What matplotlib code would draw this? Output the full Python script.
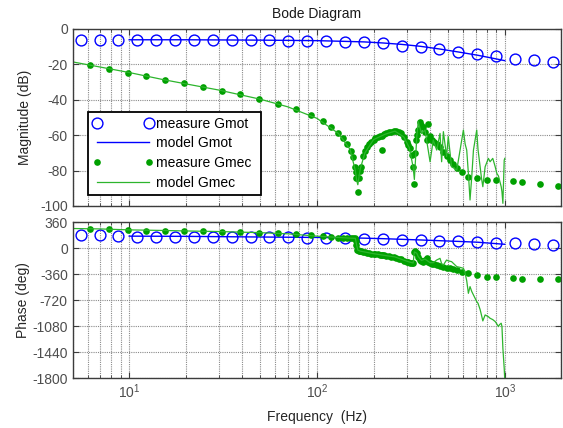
import matplotlib
matplotlib.use("Agg")
import matplotlib.pyplot as plt
from matplotlib.ticker import LogLocator, NullFormatter, FixedLocator

plt.rcParams['font.family'] = ['Liberation Sans', 'DejaVu Sans']
plt.rcParams['mathtext.fontset'] = 'custom'
plt.rcParams['mathtext.rm'] = 'Liberation Sans'
plt.rcParams['mathtext.it'] = 'Liberation Sans'
plt.rcParams['axes.unicode_minus'] = False

# ---------------- data ----------------
# measure Gmot (blue circles)
mot_f = [5.51, 6.95, 8.75, 11.0, 13.9, 17.5, 22.1, 27.9, 35.2, 44.3, 55.8, 70.5, 88.7,
         112, 141, 178, 224, 282, 356, 449, 566, 714, 899, 1135, 1429, 1803]
mot_mag = [-6.0, -6.0, -6.0, -6.0, -6.0, -6.0, -6.0, -6.0, -6.0, -6.0, -6.0, -6.6, -6.6,
           -6.6, -7.1, -7.1, -8.1, -9.4, -10.3, -11.5, -12.8, -14.1, -15.4, -16.9, -17.7, -18.8]
mot_phase = [180, 180, 166, 160, 160, 160, 160, 160, 160, 160, 160, 158, 146,
             146, 144, 132, 128, 120, 112, 103, 94, 85, 73, 66, 55, 50]

# model Gmot (blue line)
mmot_f = [10, 20, 50, 100, 141, 178, 224, 282, 356, 449, 566, 714, 899, 1000]
mmot_mag = [-6.1, -6.1, -6.3, -6.6, -7.0, -7.3, -7.9, -8.7, -9.8, -11.3, -13.0, -14.8, -16.9, -17.9]
mmot_phase = [168, 165, 156, 150, 145, 140, 133, 124, 115, 105, 95, 84, 64, 55]

# measure Gmec (green dots)
mec_f = [6.2, 7.8, 9.9, 12.3, 15.5, 19.5, 24.6, 31.1, 38.9, 49.0, 61.7, 76.9, 92.5,
         107, 119, 129, 138, 145, 151, 156, 159, 161, 162, 163, 165, 167, 169, 171,
         176, 180, 184, 190, 195, 200, 204, 210, 216, 221, 223, 228, 234, 242, 249,
         256, 265, 272, 280, 290, 300, 306, 312, 319, 324, 328, 331, 336, 339, 346,
         353, 360, 368, 376, 384, 391, 400, 410, 420, 434, 452, 471, 490, 511, 532,
         555, 590, 640, 710, 802, 903, 1102, 1230, 1531, 1931]
mec_mag = [-20.5, -22.7, -24.6, -26.7, -28.8, -30.8, -32.9, -34.8, -37.0, -39.5, -42.5, -45.1, -48.6,
           -52.2, -55.5, -58.9, -61.8, -65.0, -68.8, -72.5, -77.8, -81.0, -84.4, -84.0, -91.9, -84.0, -80.0, -77.8,
           -72.0, -69.0, -66.5, -65.0, -63.7, -62.5, -61.8, -61.0, -60.7, -60.5, -68.4, -59.5, -58.9, -58.4, -58.0,
           -57.7, -57.6, -58.0, -58.9, -61.0, -63.7, -65.5, -67.4, -71.0, -77.8, -87.8, -70.0, -62.6, -60.0, -57.0,
           -52.3, -54.0, -55.1, -58.0, -62.6, -53.6, -60.7, -62.5, -63.7, -65.0, -66.5, -69.5, -71.5, -74.0, -76.5,
           -78.5, -80.6, -83.4, -84.3, -85.3, -85.3, -85.7, -86.3, -87.3, -88.5]
mec_phase = [267, 267, 253, 244, 244, 239, 239, 230, 221, 216, 207, 193, 182,
             165, 155, 148, 142, 140, 138, 138, 138, 100, 40, -20, -30, -35, -38, -42,
             -50, -55, -61, -70, -75, -78, -80, -85, -90, -94, -96, -100, -105, -112, -117,
             -125, -135, -148, -156, -170, -186, -195, -202, -209, -200, -48, -45, -60, -71, -120,
             -163, -175, -186, -160, -140, -190, -209, -218, -225, -232, -244, -255, -268, -280, -287,
             -300, -325, -348, -371, -394, -405, -408, -426, -431, -426]

# model Gmec (green line)
mmec_f = [5, 7, 10, 15, 20, 30, 50, 70, 100, 130, 150, 160, 163, 165, 170, 180, 200, 230, 260,
          290, 310, 325, 330, 340, 346, 360, 376, 400, 416, 434, 452, 461, 471, 490, 500, 521,
          555, 578, 602, 615, 627, 640, 653, 667, 681, 709, 720, 739, 751, 764, 786, 818,
          835, 863, 889, 907, 925, 937, 957, 966, 977, 993, 1000]
mmec_mag = [-18.6, -21.5, -24.6, -28.5, -31.0, -34.5, -39.7, -44.0, -50.5, -59.0, -68.0, -80.0, -86.0, -88.0, -79.0, -70.0, -62.5, -59.5, -57.7,
            -61.0, -67.0, -78.0, -85.0, -60.8, -52.4, -59.0, -57.1, -75.0, -62.7, -68.4, -59.0, -75.0, -58.0, -72.1, -60.8, -77.8,
            -79.7, -68.4, -57.1, -65.0, -68.4, -81.6, -96.6, -83.4, -68.4, -57.1, -68.0, -77.8, -84.0, -89.1, -77.8, -73.1,
            -75.0, -73.1, -77.8, -81.6, -83.0, -85.3, -89.1, -92.0, -98.5, -74.1, -73.1]
mmec_phase = [274, 268, 255, 247, 240, 232, 216, 200, 168, 150, 140, 138, 30, -25, -40, -52, -75, -100, -120,
              -165, -190, -205, -50, -70, -115, -170, -150, -200, -200, -163, -140, -215, -232, -163, -175, -186,
              -255, -265, -278, -348, -450, -625, -532, -600, -648, -740, -763, -850, -925, -1008, -925, -950,
              -971, -990, -1017, -1050, -1087, -1060, -1040, -1087, -1388, -1665, -1830]

title = "Bode Diagram"
mag_ticks = [-100, -80, -60, -40, -20, 0]
phase_ticks = [-1800, -1440, -1080, -720, -360, 0, 360]

# ---------------- styling ----------------
BLUE = '#0000ff'
GREEN_DOT = '#00a000'
GREEN_LINE = '#2db52d'
TICK_C = '#4d4d4d'
FRAME_C = '#3c3c3c'

fig = plt.figure(figsize=(5.63, 4.28), dpi=100)
ax1 = fig.add_axes([0.1291, 0.5187, 0.8679, 0.4136])
ax2 = fig.add_axes([0.1291, 0.1168, 0.8679, 0.3638])


def style(ax):
    ax.set_xscale('log')
    ax.set_xlim(5, 2000)
    ax.xaxis.set_major_locator(LogLocator(base=10, numticks=10))
    ax.xaxis.set_minor_locator(LogLocator(base=10, subs=range(2, 10), numticks=20))
    ax.xaxis.set_minor_formatter(NullFormatter())
    ax.grid(True, which='major', color='#8a8a8a', linestyle=(0, (1, 1)), linewidth=0.8)
    ax.grid(True, which='minor', axis='x', color='#8a8a8a', linestyle=(0, (1, 1)), linewidth=0.8)
    ax.tick_params(which='both', direction='in', top=True, right=True, colors=FRAME_C,
                   labelcolor=TICK_C, labelsize=10)
    ax.tick_params(which='major', length=4)
    ax.tick_params(which='minor', length=2)
    for s in ax.spines.values():
        s.set_color(FRAME_C)
        s.set_linewidth(1.0)
    ax.set_axisbelow(True)


style(ax1)
style(ax2)

# magnitude
ax1.plot(mot_f, mot_mag, linestyle='none', marker='o', markersize=7.8, markerfacecolor='none',
         markeredgecolor=BLUE, markeredgewidth=1.0, label='measure Gmot')
ax1.plot(mmot_f, mmot_mag, color=BLUE, linewidth=1.0, label='model Gmot')
ax1.plot(mec_f, mec_mag, linestyle='none', marker='o', markersize=4.8, color=GREEN_DOT,
         markeredgewidth=0, label='measure Gmec')
ax1.plot(mmec_f, mmec_mag, color=GREEN_LINE, linewidth=0.9, label='model Gmec')
ax1.set_ylim(-100, 0)
ax1.yaxis.set_major_locator(FixedLocator(mag_ticks))
ax1.tick_params(axis='x', labelbottom=False)
ax1.set_ylabel('Magnitude (dB)', fontsize=10, color='#262626', labelpad=6)
ax1.set_title(title, fontsize=10, color='#1a1a1a', pad=8)

leg = ax1.legend(loc='upper left', bbox_to_anchor=(0.032, 0.0, 0.3535, 0.533), mode='expand',
                 borderaxespad=0, numpoints=2, handlelength=4.3, handletextpad=0.2,
                 labelspacing=0.42, borderpad=0.35, fancybox=False, framealpha=1,
                 edgecolor='black', fontsize=10)
leg.get_frame().set_linewidth(1.3)

# phase
ax2.plot(mot_f, mot_phase, linestyle='none', marker='o', markersize=7.8, markerfacecolor='none',
         markeredgecolor=BLUE, markeredgewidth=1.0)
ax2.plot(mmot_f, mmot_phase, color=BLUE, linewidth=1.0)
ax2.plot(mec_f, mec_phase, linestyle='none', marker='o', markersize=4.8, color=GREEN_DOT,
         markeredgewidth=0)
ax2.plot(mmec_f, mmec_phase, color=GREEN_LINE, linewidth=0.9)
ax2.set_ylim(-1800, 360)
ax2.yaxis.set_major_locator(FixedLocator(phase_ticks))
ax2.set_ylabel('Phase (deg)', fontsize=10, color='#262626', labelpad=2)
ax2.set_xlabel('Frequency  (Hz)', fontsize=10, color='#262626', labelpad=6)

fig.savefig('out.png', dpi=100)
